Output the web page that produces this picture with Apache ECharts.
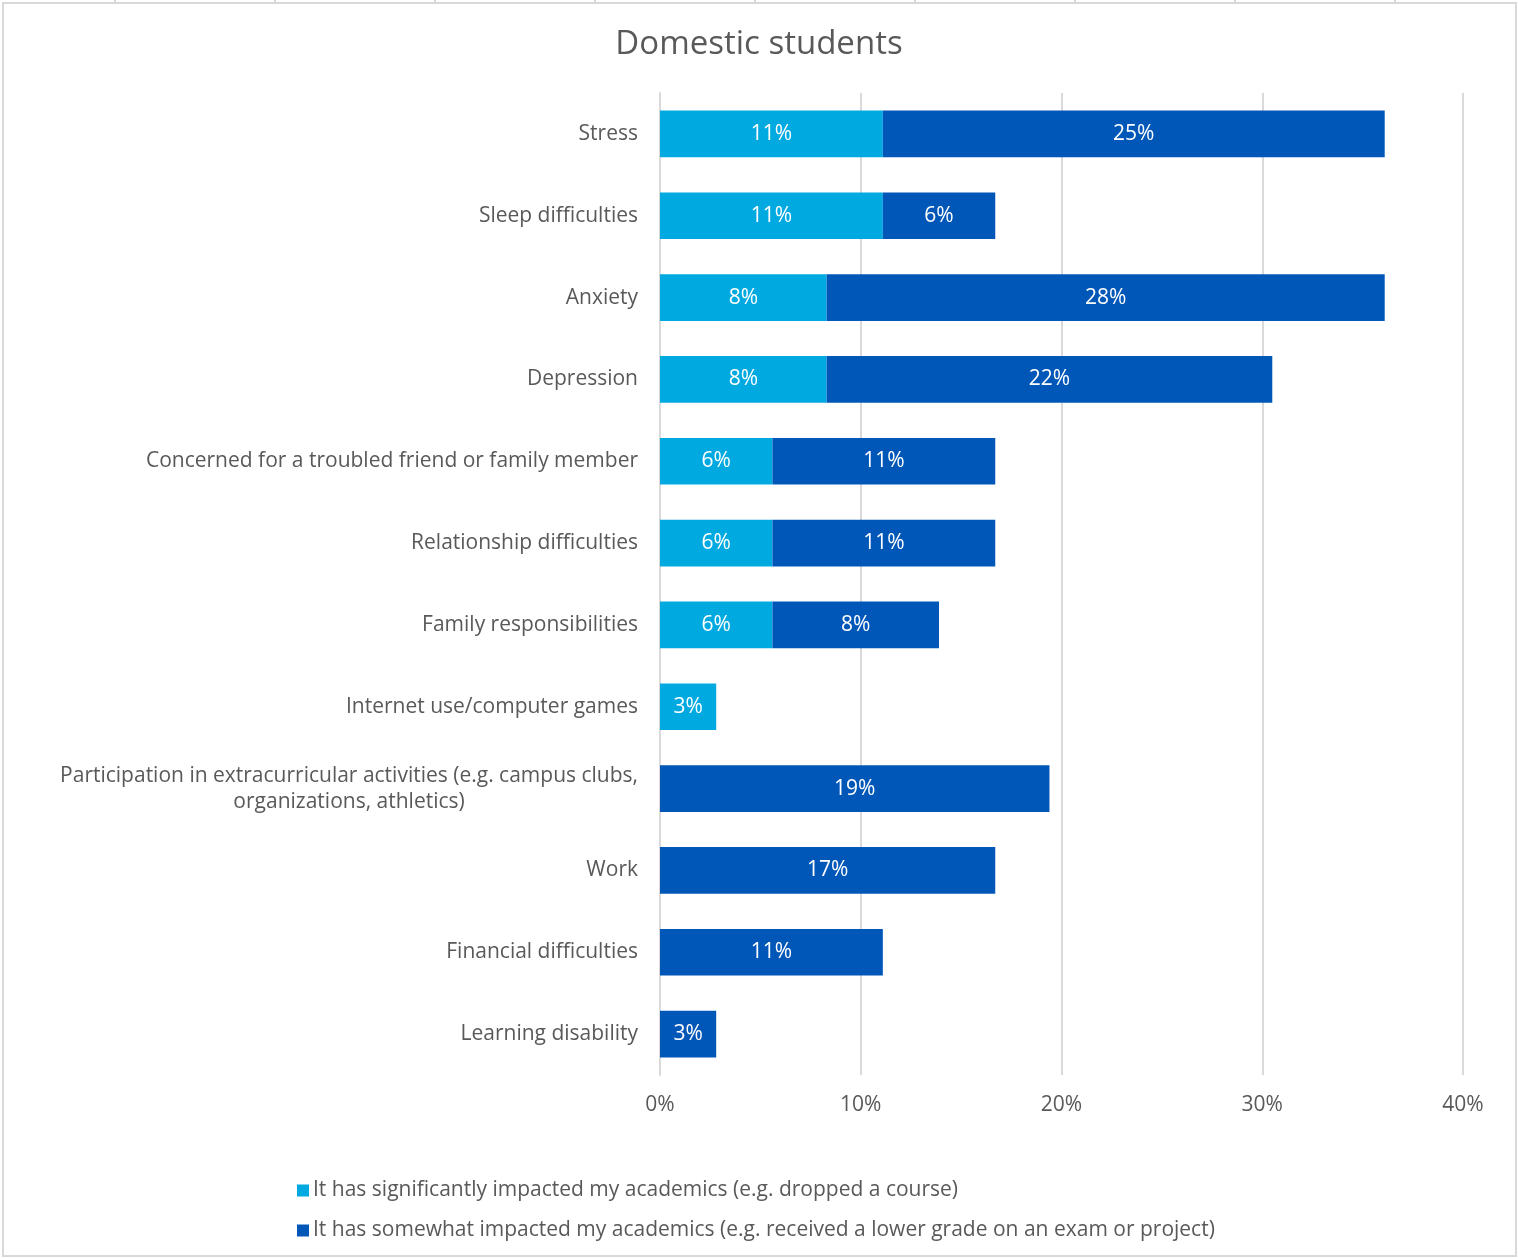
<!DOCTYPE html>
<html>
<head>
<meta charset="utf-8">
<style>
html,body{margin:0;padding:0;background:#fff;}
#chart{width:1518px;height:1258px;}
</style>
<script src="https://cdn.jsdelivr.net/npm/echarts@6/dist/echarts.min.js"></script>
</head>
<body>
<div id="chart"></div>
<script>
const titleText = 'Domestic students';
const categories = [
  'Stress',
  'Sleep difficulties',
  'Anxiety',
  'Depression',
  'Concerned for a troubled friend or family member',
  'Relationship difficulties',
  'Family responsibilities',
  'Internet use/computer games',
  'Participation in extracurricular activities (e.g. campus clubs,\norganizations, athletics)',
  'Work',
  'Financial difficulties',
  'Learning disability'
];
const seriesNames = [
  'It has significantly impacted my academics (e.g. dropped a course)',
  'It has somewhat impacted my academics (e.g. received a lower grade on an exam or project)'
];
const significantly = [11.1, 11.1, 8.3, 8.3, 5.6, 5.6, 5.6, 2.8, null, null, null, null];
const somewhat = [25.0, 5.6, 27.8, 22.2, 11.1, 11.1, 8.3, null, 19.4, 16.7, 11.1, 2.8];
const xTicks = [0, 10, 20, 30, 40];

const textColor = '#595959';
const font = 'Open Sans';
const colors = ['#00A9E0', '#0057B8'];

const chart = echarts.init(document.getElementById('chart'));

const labelOpt = {
  show: true,
  position: 'inside',
  color: '#ffffff',
  fontFamily: font,
  fontSize: 21,
  formatter: p => Math.round(p.value) + '%'
};

const topTicks = [115, 275, 435, 595, 755, 915, 1075, 1235, 1395].map(x => ({
  type: 'line', shape: {x1: x, y1: 0, x2: x, y2: 3}, style: {stroke: '#D9D9D9', lineWidth: 2}, silent: true
}));

chart.setOption({
  backgroundColor: '#ffffff',
  animation: false,
  title: {
    text: titleText,
    left: 'center',
    top: 23,
    textStyle: {color: textColor, fontFamily: font, fontSize: 33, fontWeight: 'normal'}
  },
  graphic: [
    {type: 'rect', shape: {x: 3, y: 3, width: 1513, height: 1253}, style: {fill: 'none', stroke: '#D9D9D9', lineWidth: 2}, silent: true}
  ].concat(topTicks),
  legend: {
    orient: 'vertical',
    left: 292,
    top: 1175,
    itemWidth: 12,
    itemHeight: 12,
    itemGap: 19,
    icon: 'rect',
    textStyle: {color: textColor, fontFamily: font, fontSize: 21, padding: [0, 0, 0, -1]},
    data: seriesNames
  },
  grid: {left: 660, right: 55, top: 93, bottom: 183, containLabel: false},
  xAxis: {
    type: 'value',
    min: 0,
    max: 40,
    interval: 10,
    axisLine: {show: false},
    axisTick: {show: false},
    splitLine: {show: true, lineStyle: {color: '#D9D9D9', width: 2}},
    axisLabel: {
      color: textColor, fontFamily: font, fontSize: 21, margin: 20,
      formatter: v => xTicks.includes(v) ? v + '%' : ''
    }
  },
  yAxis: {
    type: 'category',
    inverse: true,
    data: categories,
    axisLine: {show: true, lineStyle: {color: '#D9D9D9', width: 2}},
    axisTick: {show: false},
    axisLabel: {
      color: textColor, fontFamily: font, fontSize: 21, margin: 22, lineHeight: 26,
      formatter: v => v.split('\n').map(s => '{c|' + s + '}').join('\n'),
      rich: {c: {align: 'center', color: textColor, fontFamily: font, fontSize: 21, lineHeight: 26}}
    }
  },
  series: [
    {
      name: seriesNames[0], type: 'bar', stack: 'total', data: significantly,
      barWidth: '57%', itemStyle: {color: colors[0]}, label: labelOpt
    },
    {
      name: seriesNames[1], type: 'bar', stack: 'total', data: somewhat,
      barWidth: '57%', itemStyle: {color: colors[1]}, label: labelOpt
    }
  ]
});
</script>
</body>
</html>
